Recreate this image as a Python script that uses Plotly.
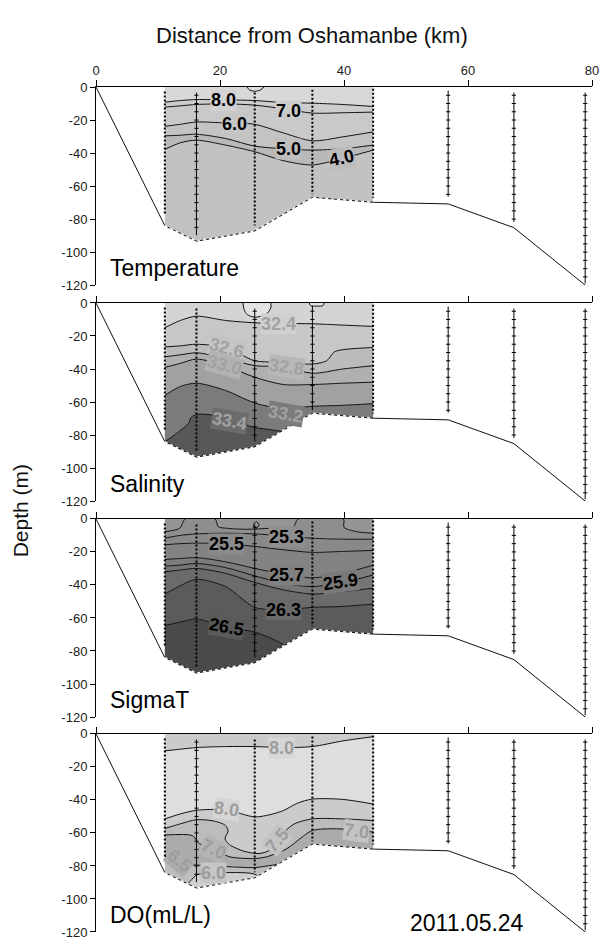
import plotly.graph_objects as go

# ---------------- stations and bathymetry (distance in km, depth in m) ----------------
STATION_X = [11.1, 16.2, 25.6, 34.9, 44.7, 56.8, 67.4, 78.9]
STATION_TOP = [2.8, 3.4, 3.4, 1.6, 1.0, 2.2, 3.4, 3.4]
STATION_BOTTOM = [77.8, 89.8, 83.8, 65.0, 67.0, 66.4, 81.8, 119.0]
SAMPLE_DEPTHS = [5, 10, 15, 20, 25, 30, 35, 40, 45, 50, 55, 60, 65, 70, 75,
                 80, 85, 90, 95, 100, 105, 110, 115]

TOPO_X = [0.0, 11.1, 16.2, 25.6, 34.9, 44.7, 56.8, 67.4, 78.9]
TOPO_DEPTH = [0.0, 84.0, 93.4, 87.2, 66.8, 69.8, 70.8, 85.2, 120.0]

# common distance nodes used for the isolines of the contoured section
XS = [11.1, 13.6, 16.2, 20.9, 25.6, 30.2, 34.9, 39.8, 44.7]

# ---------------- temperature isolines (depth of each level) ----------------
TEMP_8_0 = [9.2, 8.2, 7.6, 7.8, 8.2, 9.4, 9.8, 10.6, 11.8]
TEMP_7_0 = [12.2, 11.4, 10.6, 10.2, 11.0, 13.2, 15.8, 15.6, 15.2]
TEMP_6_0 = [23.8, 22.6, 21.2, 21.8, 22.6, 27.8, 32.6, 30.2, 27.2]
TEMP_5_0 = [29.6, 29.2, 28.6, 31.2, 35.8, 37.4, 38.2, 37.4, 35.2]
TEMP_4_0 = [37.8, 33.8, 32.2, 35.2, 39.2, 44.6, 47.2, 43.2, 38.2]
TEMP_9_0_X = [24.4, 24.7, 25.3, 25.9, 26.6, 27.1]
TEMP_9_0 = [0.0, 1.6, 2.5, 2.5, 1.6, 0.0]

# ---------------- salinity isolines ----------------
SAL_32_4 = [15.0, 10.6, 8.0, 10.6, 12.0, 12.4, 12.6, 13.4, 14.2]
SAL_32_6_X = [11.1, 13.6, 16.2, 20.9, 23.5, 25.6, 30.2, 34.9, 37.2, 38.5, 40.5, 44.7]
SAL_32_6 = [26.6, 26.0, 25.0, 27.0, 31.5, 35.0, 36.0, 37.0, 35.0, 29.5, 28.0, 27.0]
SAL_32_8 = [32.6, 31.4, 30.2, 33.4, 38.0, 38.6, 42.6, 40.0, 38.0]
SAL_33_0 = [39.0, 36.6, 34.0, 38.0, 45.0, 49.4, 49.4, 48.6, 48.0]
SAL_33_2 = [56.0, 50.6, 48.6, 53.0, 60.6, 64.0, 62.6, 62.0, 61.0]
SAL_33_4_X = [11.1, 13.0, 14.9, 15.4, 16.5, 18.9, 21.6, 25.6, 28.5, 31.0, 34.9, 44.7]
SAL_33_4 = [84.0, 79.0, 73.0, 69.0, 67.4, 68.0, 71.0, 75.4, 77.0, 79.0, 95.0, 95.0]
SAL_32_2_X = [23.7, 23.9, 24.4, 25.6, 27.4, 28.2, 28.2]
SAL_32_2 = [0.0, 4.0, 7.0, 8.6, 7.0, 3.0, 0.0]
SAL_32_2B_X = [34.4, 34.6, 35.6, 36.6, 36.8]
SAL_32_2B = [0.0, 1.6, 1.9, 1.6, 0.0]

# ---------------- sigma-t isolines ----------------
SIG_25_1_X = [11.1, 13.5, 14.4, 19.2, 19.7, 21.1, 24.3, 28.1, 31.8, 32.6, 39.9, 40.0, 42.0, 44.7]
SIG_25_1 = [7.7, 5.7, 0.0, 0.0, 4.7, 5.7, 6.3, 5.7, 5.1, 0.0, 0.0, 5.1, 7.7, 8.7]
SIG_25_3 = [11.7, 10.0, 9.1, 8.7, 9.1, 10.3, 11.7, 12.3, 12.3]
SIG_25_5 = [15.7, 15.0, 14.7, 15.1, 16.7, 18.7, 20.3, 19.7, 19.1]
SIG_25_7 = [24.6, 24.0, 23.5, 26.0, 30.0, 33.5, 35.7, 33.0, 28.0]
SIG_25_9 = [28.6, 28.0, 27.0, 29.5, 34.5, 39.0, 41.0, 38.5, 34.0]
SIG_26_1 = [32.0, 31.0, 30.0, 33.0, 38.5, 43.0, 45.5, 44.0, 42.0]
SIG_26_3 = [45.6, 40.5, 36.6, 41.0, 53.6, 55.0, 53.6, 53.0, 51.6]
SIG_26_5 = [64.6, 62.5, 60.6, 65.6, 68.6, 76.0, 90.0, 95.0, 95.0]
SIG_25_1B_X = [25.4, 25.85, 26.3, 25.85, 25.4]
SIG_25_1B = [3.7, 1.7, 3.7, 5.7, 3.7]

# ---------------- dissolved oxygen isolines ----------------
DO_8_0_A = [10.3, 9.3, 8.3, 7.7, 7.7, 8.3, 7.7, 4.3, 1.7]
DO_8_0_B_X = [11.1, 13.6, 16.2, 20.9, 25.6, 28.0, 30.2, 32.5, 34.9, 39.8, 44.7]
DO_8_0_B = [51.5, 48.5, 46.3, 46.0, 50.3, 49.0, 46.5, 42.0, 39.5, 39.7, 42.5]
DO_7_5_X = [11.1, 13.6, 16.2, 19.0, 20.9, 21.3, 20.8, 21.5, 23.8, 26.3, 28.1,
            29.2, 30.5, 32.0, 34.9, 39.8, 44.7]
DO_7_5 = [57.3, 54.5, 52.0, 52.8, 55.5, 59.0, 63.5, 67.0, 71.0, 72.5, 70.3,
          65.0, 59.0, 54.5, 51.5, 51.5, 52.5]
DO_7_0_X = [11.1, 15.6, 16.5, 18.9, 21.6, 25.6, 27.5, 30.8, 32.9, 34.9, 38.8, 42.3, 44.7]
DO_7_0 = [61.3, 61.7, 66.0, 70.0, 74.5, 75.5, 74.5, 69.5, 63.5, 58.5, 57.5, 58.5, 59.5]
DO_6_5_X = [11.1, 13.6, 16.2, 18.9, 21.6, 25.6, 28.5, 31.5, 34.9, 44.7]
DO_6_5 = [74.0, 78.5, 79.5, 80.0, 80.5, 81.0, 79.5, 78.0, 90.0, 95.0]
DO_6_0_X = [11.1, 13.6, 15.5, 16.2, 18.9, 22.5, 25.6, 28.0, 34.9, 44.7]
DO_6_0 = [95.0, 95.0, 88.0, 85.5, 84.3, 84.0, 85.0, 92.0, 95.0, 95.0]

PANEL_NAMES = ["Temperature", "Salinity", "SigmaT", "DO(mL/L)"]
SURVEY_DATE = "2011.05.24"
X_TICKS = [0, 20, 40, 60, 80]
Y_TICKS = [0, -20, -40, -60, -80, -100, -120]
Y_TICK_TEXT = ["0", "-20", "-40", "-60", "-80", "-100", "-120"]

# ---------------- assemble panels ----------------
panels = [
    dict(
        lines=[(8.0, XS, TEMP_8_0), (7.0, XS, TEMP_7_0), (6.0, XS, TEMP_6_0),
               (5.0, XS, TEMP_5_0), (4.0, XS, TEMP_4_0)],
        bands=["#d8d8d8", "#cdcdcd", "#c9c9c9", "#c3c3c3", "#b9b9b9", "#c2c2c2"],
        caps=[(9.0, TEMP_9_0_X, TEMP_9_0, "#dedede")],
        labels=[(8.0, 20.5, 8.0, 0, "#d3d3d3"), (7.0, 31.0, 14.3, 0, "#cbcbcb"),
                (6.0, 22.4, 22.2, 0, "#c6c6c6"), (5.0, 31.0, 37.6, 0, "#bfbfbf"),
                (4.0, 39.6, 42.8, -12, "#bcbcbc")],
        label_color="#000000",
        dotted=[True, False, True, True, True, False, False, False],
    ),
    dict(
        lines=[(32.4, XS, SAL_32_4), (32.6, SAL_32_6_X, SAL_32_6), (32.8, XS, SAL_32_8),
               (33.0, XS, SAL_33_0), (33.2, XS, SAL_33_2), (33.4, SAL_33_4_X, SAL_33_4)],
        bands=["#d4d4d4", "#c7c7c7", "#bbbbbb", "#b0b0b0", "#a1a1a1", "#7b7b7b", "#585858"],
        caps=[(32.2, SAL_32_2_X, SAL_32_2, "#e4e4e4"), (32.2, SAL_32_2B_X, SAL_32_2B, "#e4e4e4")],
        labels=[(32.4, 29.4, 12.5, 0, "#d0d0d0"), (32.6, 21.1, 27.5, 15, "#c4c4c4"),
                (33.0, 20.8, 37.5, 15, "#b2b2b2"), (32.8, 30.8, 38.8, 8, "#b8b8b8"),
                (33.2, 30.6, 67.5, 10, "#7b7b7b"), (33.4, 21.6, 71.5, 10, "#6c6c6c")],
        label_color="#a2a2a2",
        dotted=[True, True, False, False, True, False, False, False],
    ),
    dict(
        lines=[(25.1, SIG_25_1_X, SIG_25_1), (25.3, XS, SIG_25_3), (25.5, XS, SIG_25_5),
               (25.7, XS, SIG_25_7), (25.9, XS, SIG_25_9), (26.1, XS, SIG_26_1),
               (26.3, XS, SIG_26_3), (26.5, XS, SIG_26_5)],
        bands=["#959595", "#8e8e8e", "#898989", "#838383", "#7c7c7c", "#757575",
               "#6b6b6b", "#5b5b5b", "#4a4a4a"],
        caps=[(25.1, SIG_25_1B_X, SIG_25_1B, "#9a9a9a")],
        labels=[(25.5, 21.1, 15.1, 0, "#8b8b8b"), (25.3, 30.8, 10.8, 0, "#8f8f8f"),
                (25.7, 30.8, 34.2, 0, "#808080"), (25.9, 39.4, 38.3, -8, "#7a7a7a"),
                (26.3, 30.2, 55.0, 0, "#696969"), (26.5, 21.1, 65.4, 10, "#5a5a5a")],
        label_color="#000000",
        dotted=[True, True, False, True, True, False, False, False],
    ),
    dict(
        lines=[(8.0, XS, DO_8_0_A), (8.0, DO_8_0_B_X, DO_8_0_B), (7.5, DO_7_5_X, DO_7_5),
               (7.0, DO_7_0_X, DO_7_0), (6.5, DO_6_5_X, DO_6_5), (6.0, DO_6_0_X, DO_6_0)],
        bands=["#cbcbcb", "#dedede", "#cbcbcb", "#bcbcbc", "#ababab", "#bdbdbd", "#cfcfcf"],
        caps=[],
        labels=[(8.0, 29.9, 8.3, 0, "#d6d6d6"), (8.0, 21.1, 45.8, 8, "#d6d6d6"),
                (7.5, 29.3, 64.5, -50, "#c4c4c4"), (7.0, 42.0, 58.8, 8, "#c4c4c4"),
                (7.0, 18.9, 70.0, 25, "#b4b4b4"), (6.5, 13.5, 77.0, 40, "#acacac"),
                (6.0, 18.9, 84.3, 0, "#c6c6c6")],
        label_color="#9d9d9d",
        dotted=[True, False, True, True, True, False, False, False],
    ),
]

FONT = "Liberation Sans, Arial, sans-serif"
SECTION_X0, SECTION_X1 = STATION_X[0], STATION_X[4]   # contoured stations
SECTION_FLOOR = 100.0                                  # below the sea bed, hidden by the mask
Y_MIN, Y_MAX = -120, 0
SPLINE = dict(shape="spline", smoothing=0.8)

# vertical placement of the four panels (paper fractions)
DOMAINS = [[0.7655, 1.0], [0.5100, 0.7444], [0.2544, 0.4889], [0.0, 0.2345]]

fig = go.Figure()
annotations = []


def add(trace, n):
    trace.update(xaxis="x" if n == 1 else f"x{n}", yaxis="y" if n == 1 else f"y{n}",
                 showlegend=False, hoverinfo="skip")
    fig.add_trace(trace)


for n, p in enumerate(panels, start=1):
    # filled bands, chained from the sea surface down through every isoline
    add(go.Scatter(x=[SECTION_X0, SECTION_X1], y=[0, 0], mode="lines",
                   line=dict(width=0)), n)
    for (lvl, xs, ds), col in zip(p["lines"], p["bands"][:-1]):
        add(go.Scatter(x=xs, y=[-d for d in ds], mode="lines",
                       line=dict(width=0, **SPLINE), fill="tonexty", fillcolor=col), n)
    add(go.Scatter(x=[SECTION_X0, SECTION_X1], y=[-SECTION_FLOOR, -SECTION_FLOOR],
                   mode="lines", line=dict(width=0), fill="tonexty",
                   fillcolor=p["bands"][-1]), n)

    # small closed contours at the surface
    for lvl, cx, cd, col in p["caps"]:
        add(go.Scatter(x=cx, y=[-d for d in cd], mode="lines", fill="toself",
                       fillcolor=col, line=dict(color="#111111", width=1, **SPLINE)), n)

    # isolines
    for lvl, xs, ds in p["lines"]:
        add(go.Scatter(x=xs, y=[-d for d in ds], mode="lines",
                       line=dict(color="#111111", width=1, **SPLINE)), n)

    # sea bed: white mask below the bottom profile
    add(go.Scatter(x=[TOPO_X[0], TOPO_X[-1]], y=[Y_MIN, Y_MIN], mode="lines",
                   line=dict(width=0)), n)
    add(go.Scatter(x=TOPO_X, y=[-d for d in TOPO_DEPTH], mode="lines", fill="tonexty",
                   fillcolor="white", line=dict(color="#111111", width=1)), n)
    sec_x = [x for x in TOPO_X if SECTION_X0 <= x <= SECTION_X1]
    sec_d = [d for x, d in zip(TOPO_X, TOPO_DEPTH) if SECTION_X0 <= x <= SECTION_X1]
    add(go.Scatter(x=sec_x, y=[-d for d in sec_d], mode="lines",
                   line=dict(color="white", width=1.4, dash="3px,3px")), n)

    # CTD casts
    for k, sx in enumerate(STATION_X):
        top, bot = STATION_TOP[k], STATION_BOTTOM[k]
        samples = [d for d in SAMPLE_DEPTHS if top < d < bot]
        if p["dotted"][k]:
            add(go.Scatter(x=[sx, sx], y=[-top, -bot], mode="lines",
                           line=dict(color="#000000", width=2, dash="2px,2px")), n)
        else:
            add(go.Scatter(x=[sx, sx], y=[-top, -bot], mode="lines",
                           line=dict(color="#000000", width=1)), n)
            add(go.Scatter(x=[sx] * len(samples), y=[-d for d in samples], mode="markers",
                           marker=dict(symbol="line-ew", size=3,
                                       line=dict(color="#000000", width=1))), n)

    # contour labels
    xr = "x" if n == 1 else f"x{n}"
    yr = "y" if n == 1 else f"y{n}"
    for lvl, lx, ld, ang, bg in p["labels"]:
        annotations.append(dict(
            x=lx, y=-ld, xref=xr, yref=yr, text=f"{lvl:.1f}", showarrow=False,
            textangle=ang, bgcolor=bg, borderpad=0,
            font=dict(family=FONT, size=18, color=p["label_color"], weight="bold")))

    # panel name
    annotations.append(dict(
        x=2.0, y=-109.5, xref=xr, yref=yr, text=PANEL_NAMES[n - 1], showarrow=False,
        xanchor="left", yanchor="middle", font=dict(family=FONT, size=23, color="#000000")))

    axis_font = dict(family=FONT, size=13, color="#222222")
    fig.layout[f"xaxis{'' if n == 1 else n}"] = dict(
        domain=[0, 1], range=[0, 80], side="top", anchor=yr,
        showline=True, linecolor="#000000", linewidth=1, mirror=False,
        ticks="outside", ticklen=6, tickcolor="#000000", tickwidth=1,
        tickvals=X_TICKS, showticklabels=(n == 1), tickfont=axis_font,
        showgrid=False, zeroline=False)
    fig.layout[f"yaxis{'' if n == 1 else n}"] = dict(
        domain=DOMAINS[n - 1], range=[Y_MIN, Y_MAX], anchor=xr,
        showline=True, linecolor="#000000", linewidth=1, mirror=False,
        ticks="outside", ticklen=5, tickcolor="#000000", tickwidth=1,
        tickvals=Y_TICKS, ticktext=Y_TICK_TEXT, tickfont=axis_font,
        showgrid=False, zeroline=False)

annotations.append(dict(
    x=50.3, y=-114.6, xref="x4", yref="y4", text=SURVEY_DATE, showarrow=False,
    xanchor="left", yanchor="middle", font=dict(family=FONT, size=23, color="#000000")))
annotations.append(dict(
    x=0.4355, y=1.061, xref="paper", yref="paper", text="Distance from Oshamanbe (km)",
    showarrow=False, xanchor="center", yanchor="middle",
    font=dict(family=FONT, size=22, color="#111111")))
annotations.append(dict(
    x=-0.153, y=0.498, xref="paper", yref="paper", text="Depth (m)", textangle=-90,
    showarrow=False, xanchor="center", yanchor="middle",
    font=dict(family=FONT, size=21, color="#111111")))

fig.update_layout(
    width=610, height=945, margin=dict(l=96, r=18, t=87, b=5),
    paper_bgcolor="white", plot_bgcolor="white", annotations=annotations,
    showlegend=False,
)

fig.write_html("out.html")
